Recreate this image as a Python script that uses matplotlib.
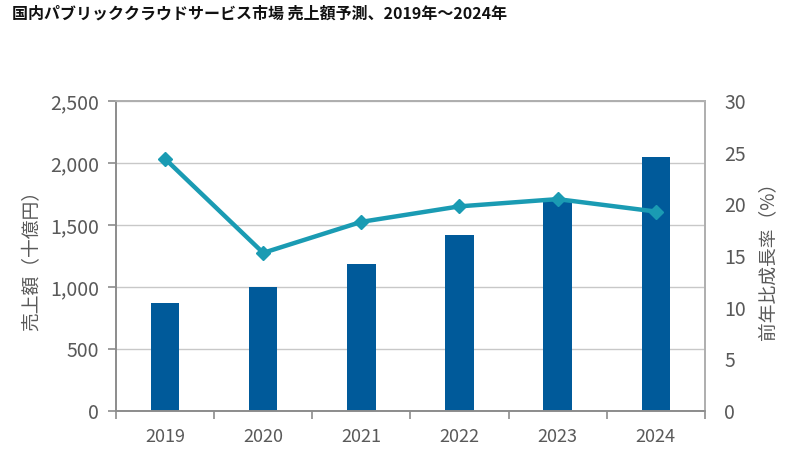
import matplotlib
matplotlib.use("Agg")
import matplotlib.pyplot as plt
from matplotlib.ticker import FuncFormatter

plt.rcParams['font.family'] = ['Noto Sans CJK JP', 'DejaVu Sans']

# data
years = ['2019', '2020', '2021', '2022', '2023', '2024']
sales = [869, 998, 1186, 1419, 1709, 2049]        # 十億円
growth = [24.4, 15.3, 18.3, 19.8, 20.5, 19.3]     # %

title = '国内パブリッククラウドサービス市場 売上額予測、2019年～2024年'
bar_color = '#005a9a'
line_color = '#1a9bb3'
tick_color = '#595959'
axis_color = '#8c8c8c'

fig = plt.figure(figsize=(8, 4.74), dpi=100)
ax = fig.add_axes([0.145, 0.133, 0.736, 0.654])
ax2 = ax.twinx()

x = range(len(years))
ax.bar(x, sales, width=0.29, color=bar_color, zorder=2)
ax.set_xlim(-0.5, len(years) - 0.5)
ax.set_ylim(0, 2500)
ax.set_yticks(range(0, 2501, 500))
ax.yaxis.set_major_formatter(FuncFormatter(lambda v, p: f'{int(v):,}'))
ax.grid(axis='y', color='#c8c8c8', linewidth=1, zorder=0)
ax.set_axisbelow(True)

# category ticks sit on the boundaries, labels in the middle
ax.set_xticks([i - 0.5 for i in range(len(years) + 1)])
ax.set_xticklabels([])
ax.set_xticks(list(x), minor=True)
ax.set_xticklabels(years, minor=True)
ax.tick_params(axis='x', which='major', length=6, color=axis_color, width=1.2)
ax.tick_params(axis='x', which='minor', length=0, pad=12, labelsize=13, labelcolor=tick_color)
ax.tick_params(axis='y', length=6, color=axis_color, width=1.2, labelsize=14,
               labelcolor=tick_color, pad=6)

ax2.plot(list(x), growth, color=line_color, linewidth=3.2, marker='D',
         markersize=7.5, zorder=3)
ax2.set_ylim(0, 30)
ax2.set_yticks(range(0, 31, 5))
ax2.tick_params(axis='y', length=0, labelsize=14, labelcolor=tick_color, pad=14)

for a in (ax, ax2):
    for s in a.spines.values():
        s.set_color(axis_color)
        s.set_linewidth(1.2)
ax2.spines['right'].set_color('#b4b4b4')
ax2.spines['top'].set_color('#b4b4b4')

ax.set_ylabel('売上額（十億円）', fontsize=13.5, color=tick_color, labelpad=6)
ax2.set_ylabel('前年比成長率（%）', fontsize=13.5, color=tick_color, labelpad=8)

fig.text(0.015, 0.972, title, fontsize=11.5, fontweight='bold', color='#111111',
         ha='left', va='center')

fig.savefig('out.png', dpi=100)
